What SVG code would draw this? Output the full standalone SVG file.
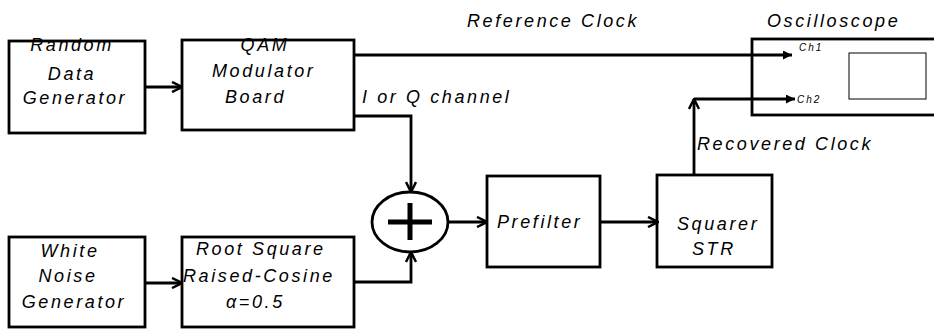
<svg xmlns="http://www.w3.org/2000/svg" width="934" height="330" viewBox="0 0 934 330">
<style>
.box{fill:#fff;stroke:#000;stroke-width:2.8}
.ln{fill:none;stroke:#000;stroke-width:2.8}
.t{font-family:"Liberation Sans",Arial,sans-serif;font-style:italic;font-size:18px;letter-spacing:2.6px;fill:#000}
.s{font-family:"Liberation Sans",Arial,sans-serif;font-style:italic;font-size:10px;letter-spacing:2px;fill:#000}
</style>
<defs>
<marker id="v" viewBox="0 0 12 12" refX="11" refY="6" markerWidth="12" markerHeight="12" markerUnits="userSpaceOnUse" orient="auto">
<path d="M1,1 L11,6 L1,11" fill="none" stroke="#000" stroke-width="2.5"/>
</marker>
<marker id="f" viewBox="0 0 10 10" refX="10" refY="5" markerWidth="9" markerHeight="9" markerUnits="userSpaceOnUse" orient="auto">
<path d="M0,0 L10,5 L0,10 z" fill="#000"/>
</marker>
</defs>
<rect width="934" height="330" fill="#fff"/>
<g id="random">
<rect class="box" x="9" y="41" width="136" height="92"/>
<text class="t" x="72" y="51" text-anchor="middle">Random</text>
<text class="t" x="72" y="80" text-anchor="middle">Data</text>
<text class="t" x="75" y="104" text-anchor="middle">Generator</text>
</g>
<g id="qam">
<rect class="box" x="182" y="40" width="172" height="90"/>
<text class="t" x="265" y="51" text-anchor="middle">QAM</text>
<text class="t" x="212" y="77">Modulator</text>
<text class="t" x="225" y="103">Board</text>
</g>
<g id="noise">
<rect class="box" x="9" y="237" width="136" height="90"/>
<text class="t" x="70" y="257" text-anchor="middle">White</text>
<text class="t" x="68" y="282" text-anchor="middle">Noise</text>
<text class="t" x="74" y="308" text-anchor="middle">Generator</text>
</g>
<g id="rrc">
<rect class="box" x="182" y="237" width="172" height="90"/>
<text class="t" x="196" y="255">Root Square</text>
<text class="t" x="183" y="282">Raised-Cosine</text>
<text class="t" x="226" y="308">α=0.5</text>
</g>
<g id="sum">
<ellipse cx="410" cy="222" rx="38" ry="30" fill="#fff" stroke="#000" stroke-width="2.8"/>
<path d="M388,222 H432 M410,203 V240" stroke="#000" stroke-width="5" fill="none"/>
</g>
<g id="prefilter">
<rect class="box" x="487" y="176" width="113" height="91"/>
<text class="t" x="497" y="228">Prefilter</text>
</g>
<g id="squarer">
<rect class="box" x="657" y="175" width="115" height="92"/>
<text class="t" x="677" y="230">Squarer</text>
<text class="t" x="692" y="255">STR</text>
</g>
<g id="scope">
<rect class="box" x="752" y="39" width="190" height="76"/>
<rect x="849" y="53" width="77" height="46" fill="none" stroke="#000" stroke-width="1"/>
<text class="t" x="767" y="27">Oscilloscope</text>
<text class="s" x="799" y="51">Ch1</text>
<text class="s" x="797" y="103">Ch2</text>
</g>
<g id="connectors">
<line class="ln" x1="145" y1="87" x2="182" y2="87" marker-end="url(#v)"/>
<line class="ln" x1="145" y1="283" x2="182" y2="283" marker-end="url(#v)"/>
<polyline class="ln" points="354,116 411,116 411,192" marker-end="url(#v)"/>
<polyline class="ln" points="354,282 411,282 411,252" marker-end="url(#v)"/>
<line class="ln" x1="448" y1="222" x2="487" y2="222" marker-end="url(#v)"/>
<line class="ln" x1="600" y1="222" x2="658" y2="222" marker-end="url(#v)"/>
<line class="ln" x1="354" y1="55" x2="792" y2="55" marker-end="url(#f)"/>
<line class="ln" x1="694" y1="175" x2="694" y2="99" marker-end="url(#v)"/>
<line class="ln" x1="694" y1="99" x2="795" y2="99" marker-end="url(#f)"/>
</g>
<g id="labels">
<text class="t" x="467" y="27">Reference Clock</text>
<text class="t" x="362" y="103">I or Q channel</text>
<text class="t" x="697" y="150">Recovered Clock</text>
</g>
</svg>
